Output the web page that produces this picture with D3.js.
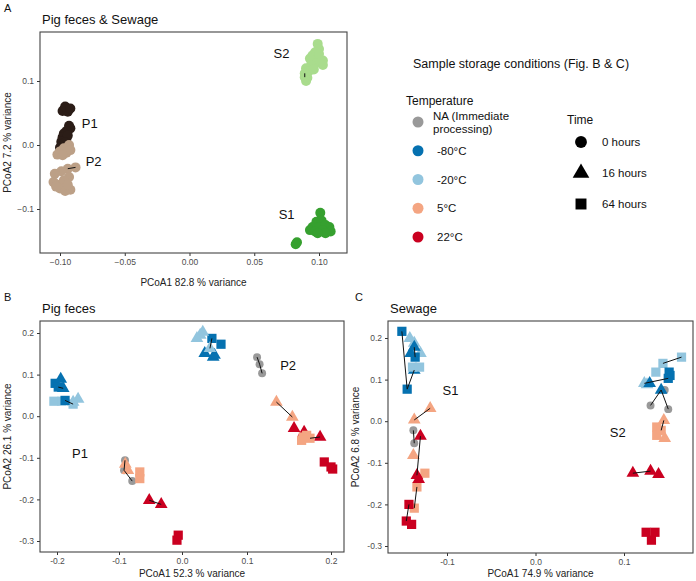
<!DOCTYPE html>
<html>
<head>
<meta charset="utf-8">
<script src="https://cdn.jsdelivr.net/npm/d3@7"></script>
<style>
  body { margin: 0; background: #fff; }
  svg { font-family: "Liberation Sans", Arial, sans-serif; }
  .tick text { fill: #4d4d4d; font-size: 8.5px; }
  .tick line { stroke: #333; }
</style>
</head>
<body>
<svg id="fig" width="696" height="581"></svg>
<script>
// categories
var temps = ['NA (Immediate processing)', '-80°C', '-20°C', '5°C', '22°C'];
var tempColors = ['#999999', '#0571b0', '#92c5de', '#f4a582', '#ca0020'];
var times = ['0 hours', '16 hours', '64 hours'];

// panel A: [pc1, pc2, line group]
var p1A = [[-0.097,0.055,0],[-0.095,0.058,0],[-0.093,0.056,0],[-0.098,0.053,0],[-0.094,0.052,0],[-0.096,0.060,0],[-0.092,0.057,0],
  [-0.093,0.030,0],[-0.092,0.026,0],[-0.095,0.022,0],[-0.097,0.018,0],[-0.098,0.012,0],[-0.095,0.010,0],[-0.099,0.005,0],
  [-0.097,0.000,0],[-0.100,-0.004,0],[-0.094,0.015,0],[-0.096,0.004,0]];
var p2A = [[-0.093,0.000,0],[-0.097,-0.005,0],[-0.100,-0.010,0],[-0.102,-0.015,0],[-0.095,-0.012,0],[-0.092,-0.008,0],[-0.098,-0.016,0],
  [-0.088,-0.035,1],[-0.094,-0.037,1],[-0.099,-0.041,0],[-0.104,-0.045,0],[-0.105,-0.058,0],[-0.102,-0.062,0],[-0.098,-0.060,0],
  [-0.100,-0.068,0],[-0.096,-0.072,0],[-0.092,-0.070,0],[-0.093,-0.050,0],[-0.103,-0.065,0],[-0.097,-0.055,0],[-0.094,-0.062,0]];
var s2A = [[0.099,0.158,0],[0.100,0.150,0],[0.097,0.145,0],[0.095,0.140,0],[0.093,0.135,0],[0.100,0.135,0],[0.103,0.132,0],
  [0.098,0.128,0],[0.094,0.125,0],[0.090,0.120,0],[0.092,0.115,0],[0.096,0.118,0],[0.089,0.112,2],[0.091,0.105,0],
  [0.103,0.125,0],[0.090,0.100,0],[0.100,0.142,0],[0.089,0.106,2]];
var s1A = [[0.101,-0.106,0],[0.098,-0.120,0],[0.102,-0.118,0],[0.095,-0.128,0],[0.100,-0.128,0],[0.105,-0.125,0],[0.108,-0.128,0],
  [0.093,-0.133,0],[0.097,-0.135,0],[0.103,-0.133,0],[0.109,-0.135,0],[0.105,-0.138,0],[0.099,-0.138,0],[0.083,-0.152,0],[0.082,-0.155,0]];
var groupsA = [
  { name: 'P1', pts: p1A, color: '#2b1d17', label: [-0.077, 0.034] },
  { name: 'P2', pts: p2A, color: '#bca087', label: [-0.074, -0.025] },
  { name: 'S2', pts: s2A, color: '#a9dc8d', label: [0.071, 0.143] },
  { name: 'S1', pts: s1A, color: '#36a02f', label: [0.075, -0.109] }
];

// panels B and C: [pc1, pc2, temperature index, time index, line group]
var pigB = [
  [-0.203,0.079,1,2,0],[-0.198,0.070,1,2,1],[-0.194,0.089,1,1,0],[-0.190,0.067,1,1,1],
  [-0.205,0.036,2,2,0],[-0.192,0.036,2,2,0],[-0.174,0.034,2,1,0],[-0.166,0.041,2,1,0],
  [-0.174,0.029,2,2,2],[-0.187,0.038,1,2,2],
  [-0.0905,-0.106,0,0,3],[-0.092,-0.130,0,0,3],[-0.079,-0.156,0,0,3],
  [-0.090,-0.115,3,1,0],[-0.086,-0.130,3,1,0],[-0.067,-0.134,3,2,0],[-0.067,-0.150,3,2,0],
  [-0.052,-0.202,4,1,4],[-0.033,-0.212,4,1,4],[-0.006,-0.286,4,2,0],[-0.008,-0.298,4,2,0],
  [0.046,0.187,1,2,5],[0.060,0.173,1,2,0],[0.035,0.151,1,1,0],[0.048,0.142,1,1,0],[0.050,0.147,1,1,0],
  [0.028,0.195,2,1,0],[0.032,0.202,2,1,0],[0.023,0.187,2,1,0],[0.043,0.163,2,1,5],
  [0.112,0.142,0,0,6],[0.115,0.125,0,0,6],[0.118,0.103,0,0,6],
  [0.135,0.034,3,1,7],[0.154,-0.002,3,1,7],
  [0.156,-0.029,4,1,0],[0.168,-0.038,4,1,0],[0.187,-0.050,4,1,8],
  [0.167,-0.050,3,2,0],[0.171,-0.046,3,2,0],[0.165,-0.058,3,2,0],[0.175,-0.053,3,2,8],
  [0.192,-0.110,4,2,0],[0.200,-0.122,4,2,0],[0.202,-0.127,4,2,0]
];
var sewC = [
  [-0.151,0.216,1,2,1],[-0.145,0.077,1,2,1],[-0.137,0.123,1,1,1],
  [-0.142,0.199,2,1,0],[-0.137,0.188,2,1,0],[-0.130,0.163,2,1,0],
  [-0.141,0.163,1,1,0],[-0.137,0.178,1,1,2],[-0.136,0.154,1,2,2],
  [-0.139,0.130,2,2,0],[-0.131,0.130,2,2,0],
  [-0.119,0.031,3,1,3],[-0.137,0.003,3,1,3],
  [-0.138,-0.082,3,1,0],
  [-0.138,-0.022,0,0,4],[-0.137,-0.053,0,0,4],
  [-0.125,-0.125,3,2,0],[-0.134,-0.158,3,2,6],[-0.137,-0.209,3,2,6],
  [-0.130,-0.036,4,1,5],[-0.134,-0.130,4,1,5],[-0.132,-0.140,4,1,0],
  [-0.143,-0.200,4,2,7],[-0.146,-0.240,4,2,7],[-0.140,-0.248,4,2,0],
  [0.165,0.154,2,2,8],[0.144,0.139,2,2,8],[0.136,0.118,2,2,0],
  [0.151,0.118,1,2,0],[0.152,0.110,1,2,0],[0.150,0.103,1,2,9],
  [0.126,0.088,2,1,0],[0.123,0.091,2,1,9],[0.129,0.091,1,1,0],
  [0.146,0.075,0,0,0],[0.130,0.038,0,0,10],[0.142,0.075,1,1,10],[0.150,0.029,0,0,10],
  [0.137,-0.014,3,2,0],[0.137,-0.034,3,2,0],[0.146,-0.041,3,1,0],[0.145,0.002,3,1,11],[0.142,-0.022,3,2,11],
  [0.110,-0.125,4,1,12],[0.130,-0.120,4,1,12],[0.139,-0.128,4,1,0],
  [0.125,-0.267,4,2,0],[0.135,-0.267,4,2,0],[0.131,-0.286,4,2,0]
];
var labelsB = [['P1', -0.163, -0.089], ['P2', 0.149, 0.123]];
var labelsC = [['S1', -0.096, 0.075], ['S2', 0.093, -0.026]];

// tick labels
var ticksA = [-0.10, -0.05, 0.0, 0.05, 0.10];
var ticksAy = [-0.1, 0.0, 0.1];
var ticksB = [-0.2, -0.1, 0.0, 0.1, 0.2];
var ticksBy = [-0.3, -0.2, -0.1, 0.0, 0.1, 0.2];
var ticksC = [-0.1, 0.0, 0.1];

var svg = d3.select('#fig');
var shapes = [d3.symbolCircle, d3.symbolTriangle, d3.symbolSquare];
var shapeSize = [50, 70, 85];

var minusFmt = function(d) { return d3.format('.2f')(d).replace('-', '\u2212'); };
var minusFmt1 = function(d) { return d3.format('.1f')(d).replace('-', '\u2212'); };
var plainFmt = function(d) { return d.toFixed(1); };

function frame(box, xs, ys, xt, yt, xf, yf, title, xtitle, ytitle, letter, lx, xtOff) {
  svg.append('g').attr('transform', 'translate(0,' + box.b + ')')
    .call(d3.axisBottom(xs).tickValues(xt).tickFormat(xf).tickSize(3).tickPadding(3))
    .call(function(g) { g.select('.domain').remove(); });
  svg.append('g').attr('transform', 'translate(' + box.l + ',0)')
    .call(d3.axisLeft(ys).tickValues(yt).tickFormat(yf).tickSize(3).tickPadding(3))
    .call(function(g) { g.select('.domain').remove(); });
  svg.append('rect')
    .attr('x', box.l).attr('y', box.t)
    .attr('width', box.r - box.l).attr('height', box.b - box.t)
    .attr('fill', 'none').attr('stroke', '#444').attr('stroke-width', 1.1);
  svg.append('text').attr('x', box.l + 2).attr('y', box.t - 8)
    .attr('font-size', 13).attr('fill', '#111').text(title);
  svg.append('text').attr('x', (box.l + box.r) / 2).attr('y', box.b + xtOff)
    .attr('text-anchor', 'middle').attr('font-size', 10).attr('fill', '#222').text(xtitle);
  svg.append('text')
    .attr('transform', 'translate(' + (box.l - 29) + ',' + ((box.t + box.b) / 2) + ') rotate(-90)')
    .attr('text-anchor', 'middle').attr('font-size', 10).attr('fill', '#222').text(ytitle);
  svg.append('text').attr('x', lx).attr('y', box.t - 20)
    .attr('font-size', 11).attr('fill', '#111').text(letter);
}

function drawLinks(pts, xs, ys, gi) {
  var grouped = d3.groups(pts.filter(function(d) { return d[gi] > 0; }), function(d) { return d[gi]; });
  var line = d3.line().x(function(d) { return xs(d[0]); }).y(function(d) { return ys(d[1]); });
  svg.append('g').selectAll('path').data(grouped).join('path')
    .attr('d', function(g) { return line(g[1]); })
    .attr('fill', 'none').attr('stroke', '#111').attr('stroke-width', 1);
}

// ---- panel A ----
var boxA = { l: 40, r: 347, t: 32, b: 253 };
var xA = d3.scaleLinear().domain([-0.10, 0.10]).range([60, 319]);
var yA = d3.scaleLinear().domain([-0.1, 0.1]).range([209, 81]);
frame(boxA, xA, yA, ticksA, ticksAy, minusFmt, minusFmt1, 'Pig feces & Sewage',
  'PCoA1 82.8 % variance', 'PCoA2 7.2 % variance', 'A', 4, 33);

groupsA.forEach(function(g) {
  svg.append('g').selectAll('circle').data(g.pts).join('circle')
    .attr('cx', function(d) { return xA(d[0]); })
    .attr('cy', function(d) { return yA(d[1]); })
    .attr('r', 5).attr('fill', g.color);
});
groupsA.forEach(function(g) { drawLinks(g.pts, xA, yA, 2); });
svg.append('g').selectAll('text').data(groupsA).join('text')
  .attr('x', function(g) { return xA(g.label[0]); })
  .attr('y', function(g) { return yA(g.label[1]); })
  .attr('dy', '0.35em').attr('text-anchor', 'middle')
  .attr('font-size', 13).attr('fill', '#111')
  .text(function(g) { return g.name; });

// ---- panels B and C ----
function storagePanel(pts, labels, xs, ys) {
  svg.append('g').selectAll('path').data(pts).join('path')
    .attr('transform', function(d) { return 'translate(' + xs(d[0]) + ',' + ys(d[1]) + ')'; })
    .attr('d', function(d) { return d3.symbol().type(shapes[d[3]]).size(shapeSize[d[3]])(); })
    .attr('fill', function(d) { return tempColors[d[2]]; });
  drawLinks(pts, xs, ys, 4);
  svg.append('g').selectAll('text').data(labels).join('text')
    .attr('x', function(d) { return xs(d[1]); })
    .attr('y', function(d) { return ys(d[2]); })
    .attr('dy', '0.35em').attr('text-anchor', 'middle')
    .attr('font-size', 13).attr('fill', '#111')
    .text(function(d) { return d[0]; });
}

var boxB = { l: 40, r: 344, t: 321, b: 552 };
var xB = d3.scaleLinear().domain(ticksB).range([57, 119, 182, 247, 331]);
var yB = d3.scaleLinear().domain([-0.3, 0.2]).range([541, 333]);
frame(boxB, xB, yB, ticksB, ticksBy, plainFmt, plainFmt, 'Pig feces',
  'PCoA1 52.3 % variance', 'PCoA2 26.1 % variance', 'B', 4, 25);
storagePanel(pigB, labelsB, xB, yB);

var boxC = { l: 388, r: 693, t: 321, b: 553 };
var xC = d3.scaleLinear().domain([-0.1, 0.1]).range([447, 624]);
var yC = d3.scaleLinear().domain([-0.3, 0.2]).range([546, 338]);
frame(boxC, xC, yC, ticksC, ticksBy, plainFmt, plainFmt, 'Sewage',
  'PCoA1 74.9 % variance', 'PCoA2 6.8 % variance', 'C', 355, 24);
storagePanel(sewC, labelsC, xC, yC);

// ---- legend ----
var leg = svg.append('g');
leg.append('text').attr('x', 413).attr('y', 68).attr('font-size', 12.5).attr('fill', '#111')
  .text('Sample storage conditions (Fig. B & C)');
leg.append('text').attr('x', 406).attr('y', 105).attr('font-size', 12).attr('fill', '#111').text('Temperature');
var tempY = d3.scalePoint().domain(d3.range(temps.length)).range([122, 237]);
leg.selectAll('circle').data(temps).join('circle')
  .attr('cx', 418).attr('cy', function(d, i) { return tempY(i); })
  .attr('r', 5.5).attr('fill', function(d, i) { return tempColors[i]; });
leg.selectAll('text.tl').data(temps).join('text').attr('class', 'tl')
  .attr('x', function(d, i) { return i == 0 ? 433 : 437; })
  .attr('y', function(d, i) { return tempY(i); })
  .attr('font-size', 11.5).attr('fill', '#111')
  .each(function(d, i) {
    var t = d3.select(this);
    if (i == 0) {
      t.append('tspan').attr('x', 433).attr('dy', '-0.15em').text('NA (Immediate');
      t.append('tspan').attr('x', 433).attr('dy', '1.1em').text('processing)');
    } else {
      t.attr('dy', '0.35em').text(d);
    }
  });
leg.append('text').attr('x', 567).attr('y', 124).attr('font-size', 12).attr('fill', '#111').text('Time');
var timeY = d3.scalePoint().domain(d3.range(times.length)).range([142, 204]);
leg.selectAll('path').data(times).join('path')
  .attr('transform', function(d, i) { return 'translate(581,' + timeY(i) + ')'; })
  .attr('d', function(d, i) { return d3.symbol().type(shapes[i]).size([110, 120, 120][i])(); })
  .attr('fill', '#000');
leg.selectAll('text.ti').data(times).join('text').attr('class', 'ti')
  .attr('x', 602).attr('y', function(d, i) { return timeY(i); })
  .attr('dy', '0.35em').attr('font-size', 11.5).attr('fill', '#111')
  .text(function(d) { return d; });
</script>
</body>
</html>
